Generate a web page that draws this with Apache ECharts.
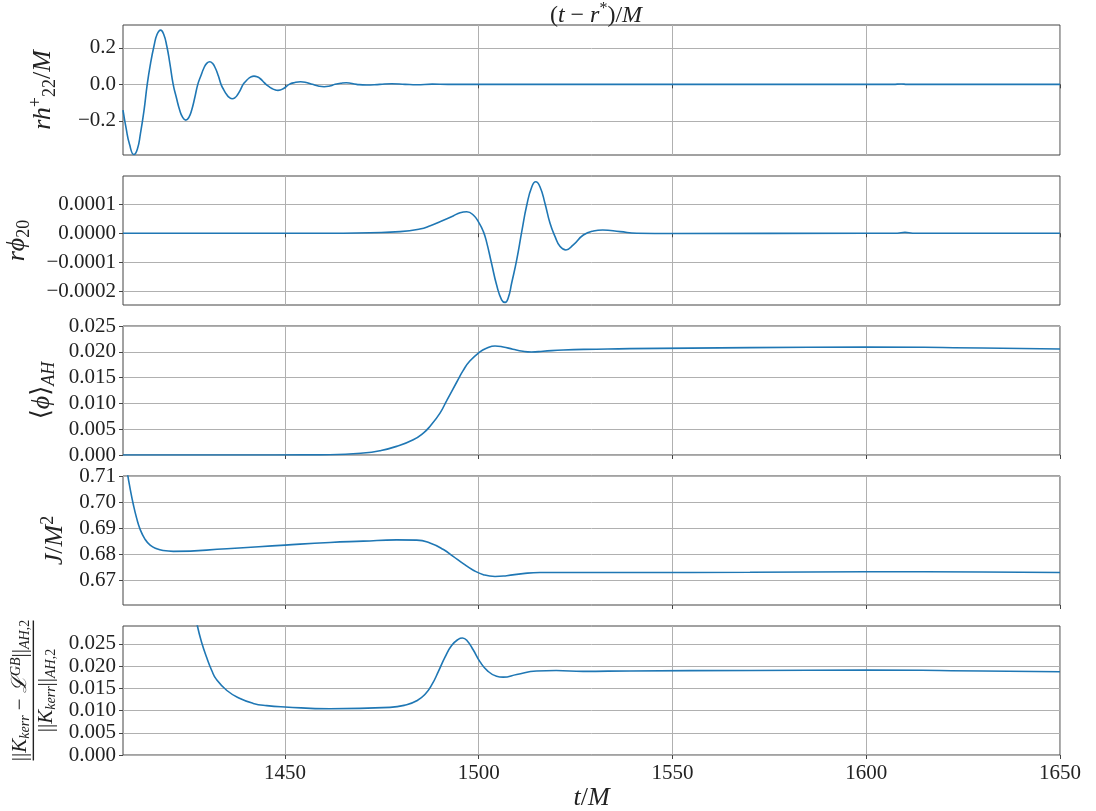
<!DOCTYPE html>
<html>
<head>
<meta charset="utf-8">
<script src="https://cdn.jsdelivr.net/npm/echarts@6/dist/echarts.min.js"></script>
<style>
  html, body { margin: 0; padding: 0; background: #fff; }
  #chart { width: 1096px; height: 811px; }
</style>
</head>
<body>
<div id="chart"></div>
<script>
// Shared time axis t/M
const tMin = 1408.2;
const tMax = 1650;
const tTicks = [1450, 1500, 1550, 1600, 1650];

// Panel 1: r h22+ / M (ringdown of the strain)
const tStrain = [1408.2, 1409.0, 1409.9, 1411.0, 1411.9, 1412.7, 1413.6, 1414.45, 1415.3, 1416.2, 1417.0, 1417.9,
  1418.7, 1419.5, 1420.3, 1421.15, 1422.0, 1422.8, 1423.6, 1424.4,
  1425.2, 1425.95, 1426.7, 1427.5, 1428.3, 1429.05, 1429.8, 1430.6,
  1431.3, 1432.05, 1432.8, 1433.5, 1434.2, 1434.95, 1435.7, 1436.4,
  1437.1, 1437.8, 1438.5, 1439.2, 1439.9, 1440.6, 1441.3, 1442.0,
  1442.8, 1443.55, 1444.3, 1445.1, 1445.9, 1446.65, 1447.4, 1448.2,
  1449.65, 1451.1, 1452.55, 1454.0, 1455.5, 1457.05, 1458.6, 1460.1,
  1461.5, 1462.95, 1464.4, 1465.8, 1468.5, 1471.0, 1474.5, 1477.5, 1481.0, 1484.0, 1488.0, 1492.0,
  1500, 1560, 1600, 1607, 1609, 1610.5, 1612, 1620, 1650];
const strain = [-0.141, -0.24, -0.33, -0.384, -0.355, -0.27, -0.147, 0.0, 0.114, 0.21, 0.274, 0.297,
  0.274, 0.21, 0.114, 0.0, -0.075, -0.139, -0.181, -0.196,
  -0.181, -0.139, -0.075, 0.0, 0.047, 0.088, 0.115, 0.124,
  0.115, 0.088, 0.047, 0.0, -0.030, -0.056, -0.073, -0.079,
  -0.073, -0.056, -0.030, 0.0, 0.017, 0.032, 0.042, 0.045,
  0.042, 0.032, 0.017, 0.0, -0.013, -0.023, -0.030, -0.033,
  -0.023, 0.0, 0.010, 0.014, 0.010, 0.0, -0.009, -0.013,
  -0.009, 0.0, 0.006, 0.009, 0.0, -0.004, 0.0, 0.003, 0.0, -0.002, 0.001, 0.0,
  0, 0, 0, 0, 0.002, 0, 0, 0, 0];
const strainTicks = [-0.2, 0, 0.2];

// Panel 2: r phi_20 (scalar waveform)
const tScalar = [1408.2, 1440, 1460, 1465, 1472, 1479.7, 1484.8, 1487.5, 1490.0, 1493.4, 1495.2, 1496.9,
  1498.6, 1500.15, 1501.2, 1502.0, 1503.3, 1504.6, 1505.9, 1506.8, 1507.6, 1508.5, 1509.8,
  1511.1, 1512.4, 1513.7, 1514.7, 1515.8, 1517.1, 1518.4, 1519.7, 1521.0, 1522.5, 1524.4,
  1527.0, 1529.6, 1532.0, 1536.5, 1540.8, 1550, 1600, 1608, 1610, 1612, 1650];
const scalar = [0, 0, 0, 0.0000003, 0.000002, 0.0000056, 0.0000148, 0.000026, 0.00004, 0.00006, 0.0000713, 0.0000746,
  0.0000631, 0.0000345, 0.0000056, -0.0000289, -0.0001037, -0.000178, -0.00023, -0.000239, -0.000224, -0.000172, -0.000092,
  0.0000056, 0.0000976, 0.000161, 0.000178, 0.000161, 0.000103, 0.0000345, -0.0000115, -0.000046, -0.0000576, -0.00004,
  -0.000006, 0.000008, 0.0000114, 0.0000056, 0, -0.000001, 0, 0, 0.000003, 0, 0];
const scalarTicks = [-0.0002, -0.0001, 0, 0.0001];

// Panel 3: <phi>_AH (scalar field averaged on the apparent horizon)
const tField = [1408.2, 1440, 1455, 1461.6, 1470.2, 1474.5, 1478.8, 1483.1, 1485.7, 1487.4, 1490.0,
  1491.7, 1494.3, 1496.0, 1497.7, 1500.3, 1502.0, 1504.2, 1506.3, 1508.8, 1511.4, 1513.6,
  1516.6, 1521.8, 1530.4, 1539, 1570, 1600, 1630, 1650];
const field = [0, 0, 0.00002, 0.00006, 0.00038, 0.00083, 0.00167, 0.00296, 0.00425, 0.00554, 0.00812,
  0.0105, 0.0141, 0.0164, 0.0182, 0.0200, 0.0207, 0.02113, 0.02094, 0.0205, 0.02011, 0.01997,
  0.0201, 0.02036, 0.0205, 0.02061, 0.0208, 0.02092, 0.02075, 0.02055];
const fieldTicks = [0, 0.005, 0.01, 0.015, 0.02, 0.025];

// Panel 4: J/M^2 (dimensionless spin)
const tSpin = [1408.2, 1409.4, 1410.0, 1410.85, 1411.7, 1412.6, 1413.9, 1415.2, 1416.9, 1418.6, 1421.2,
  1435, 1450, 1461.6, 1470.2, 1478.8, 1484.0, 1487.4, 1490.9, 1493.4, 1496.0, 1498.6, 1501.2,
  1504.2, 1507.2, 1511.4, 1515.8, 1539, 1570, 1600, 1630, 1650];
const spin = [0.722, 0.7105, 0.7055, 0.6992, 0.6940, 0.6897, 0.6858, 0.6836, 0.6822, 0.6815, 0.6812,
  0.6822, 0.6836, 0.6846, 0.6851, 0.6856, 0.6855, 0.6844, 0.6819, 0.6793, 0.6765, 0.6740, 0.6723,
  0.6716, 0.6719, 0.6727, 0.6731, 0.6731, 0.6732, 0.6734, 0.6733, 0.6731];
const spinTicks = [0.67, 0.68, 0.69, 0.70, 0.71];

// Panel 5: normalised constraint ||K_kerr - L^GB|| / ||K_kerr||
const tConstraint = [1424.0, 1425.8, 1427.4, 1428.5, 1429.8, 1431.1, 1432.3, 1435.0, 1438.4, 1441.8, 1445.3,
  1450, 1461.6, 1477.1, 1481.4, 1484.0, 1486.1, 1487.9, 1489.6, 1491.3, 1493.0, 1494.7, 1495.8,
  1497.0, 1498.6, 1500.3, 1502.4, 1504.6, 1506.3, 1509.8, 1514.9, 1520.0, 1526.9, 1539,
  1570, 1600, 1630, 1650];
const constraint = [0.047, 0.036, 0.029, 0.0253, 0.0219, 0.0190, 0.0170, 0.0145, 0.0127, 0.0116, 0.0111,
  0.0108, 0.0104, 0.0107, 0.0113, 0.0122, 0.0136, 0.0158, 0.0188, 0.0220, 0.0246, 0.0260, 0.0263,
  0.0257, 0.0236, 0.021, 0.0188, 0.0177, 0.0175, 0.0181, 0.0189, 0.019, 0.0188, 0.0189,
  0.019, 0.0191, 0.0189, 0.0187];
const constraintTicks = [0, 0.005, 0.01, 0.015, 0.02, 0.025];

const SERIF = "'Liberation Serif', 'DejaVu Serif', serif";
const INK = '#222';
const LINE = '#1f77b4';

const zip = (xs, ys) => xs.map((x, i) => [x, ys[i]]);
const fmt = d => v => (v < -1e-12 ? '\u2212' : '') + Math.abs(v).toFixed(d);

// Rich text styles for the math-like axis names
function mathRich(size, lead) {
  const sub = Math.round(size * 0.68);
  const base = { fontFamily: SERIF, fontWeight: 'normal', color: INK };
  const lh = size + (lead == null ? 6 : lead);
  return {
    i: { ...base, fontStyle: 'italic', fontSize: size, lineHeight: lh },
    n: { ...base, fontStyle: 'normal', fontSize: size, lineHeight: lh },
    sup: { ...base, fontStyle: 'normal', fontSize: sub, lineHeight: sub, verticalAlign: 'top' },
    supi: { ...base, fontStyle: 'italic', fontSize: sub, lineHeight: sub, verticalAlign: 'top' },
    sub: { ...base, fontStyle: 'normal', fontSize: sub, lineHeight: sub, verticalAlign: 'bottom' },
    subi: { ...base, fontStyle: 'italic', fontSize: sub, lineHeight: sub, verticalAlign: 'bottom' },
    bar: { width: 140, height: 1.4, lineHeight: 3, backgroundColor: INK }
  };
}

const panels = [
  { t: tStrain, v: strain, min: -0.387, max: 0.325, ticks: strainTicks, dec: 1, top: 25, height: 130,
    name: '{i|rh}{sup|+}{sub|22}{n|/}{i|M}', size: 26, lead: 6, gap: 64 },
  { t: tScalar, v: scalar, min: -0.000248, max: 0.000198, ticks: scalarTicks, dec: 4, top: 176, height: 129,
    name: '{i|r\u03D5}{sub|20}', size: 26, lead: 6, gap: 90 },
  { t: tField, v: field, min: 0, max: 0.025, ticks: fieldTicks, dec: 3, top: 326, height: 129,
    name: '{n|\u27E8}{i|\u03D5}{n|\u27E9}{subi|AH}', size: 26, lead: 6, gap: 62 },
  { t: tSpin, v: spin, min: 0.6607, max: 0.71, ticks: spinTicks, dec: 2, top: 476, height: 129,
    name: '{i|J}{n|/}{i|M}{sup|2}', size: 26, lead: 6, gap: 52 },
  { t: tConstraint, v: constraint, min: 0, max: 0.029, ticks: constraintTicks, dec: 3, top: 626, height: 129,
    name: '{n|||}{i|K}{subi|kerr}{n| \u2212 }{i|\u2112}{supi|GB}{n|||}{subi|AH}{sub|,2}\n{bar|}\n{n|||}{i|K}{subi|kerr}{n|||}{subi|AH}{sub|,2}',
    size: 21, lead: 2, gap: 61 }
];

const grid = [], xAxis = [], yAxis = [], series = [];
panels.forEach((p, k) => {
  const last = k === panels.length - 1;
  grid.push({ left: 123, right: 36, top: p.top, height: p.height, show: true,
    containLabel: false, outerBoundsMode: 'none',
    borderColor: '#444', borderWidth: 1, backgroundColor: 'transparent' });
  xAxis.push({
    type: 'value', gridIndex: k, min: tMin, max: tMax,
    axisLine: { show: false },
    axisTick: { show: true, customValues: tTicks, length: 4, lineStyle: { color: '#444' } },
    axisLabel: { show: last, customValues: tTicks, margin: 8, fontFamily: SERIF, fontSize: 21, color: INK,
      formatter: v => String(v) },
    splitLine: { show: true, lineStyle: { color: '#b0b0b0', width: 1 } },
    name: last ? '{i|t}{n|/}{i|M}' : '',
    nameLocation: 'middle', nameGap: 27,
    nameTextStyle: { rich: mathRich(26) }
  });
  yAxis.push({
    type: 'value', gridIndex: k, min: p.min, max: p.max,
    axisLine: { show: false },
    axisTick: { show: true, customValues: p.ticks, length: 4, lineStyle: { color: '#444' } },
    axisLabel: { customValues: p.ticks, margin: 7, fontFamily: SERIF, fontSize: 21, color: INK,
      formatter: fmt(p.dec) },
    splitLine: { show: true, lineStyle: { color: '#b0b0b0', width: 1 } },
    name: p.name, nameLocation: 'middle', nameRotate: 90, nameGap: p.gap,
    nameTextStyle: { rich: mathRich(p.size, p.lead) }
  });
  series.push({
    type: 'line', xAxisIndex: k, yAxisIndex: k,
    data: zip(p.t, p.v), showSymbol: false, smooth: 0.5, clip: true,
    lineStyle: { color: LINE, width: 1.6 }
  });
});

const chart = echarts.init(document.getElementById('chart'), null, { renderer: 'canvas' });
chart.setOption({
  animation: false,
  backgroundColor: '#fff',
  title: {
    text: '{n|(}{i|t}{n| \u2212 }{i|r}{sup|*}{n|)/}{i|M}',
    left: 591, top: -4, textAlign: 'center',
    textStyle: { fontWeight: 'normal', rich: mathRich(24) }
  },
  grid, xAxis, yAxis, series
});
</script>
</body>
</html>
